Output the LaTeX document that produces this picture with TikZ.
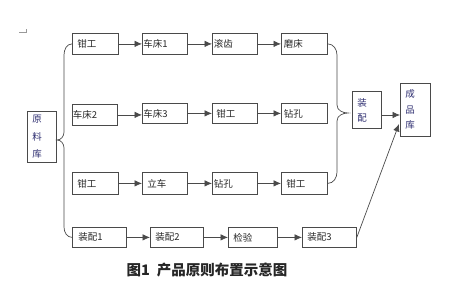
\documentclass[tikz,border=0pt]{standalone}
\usepackage{fontspec}
\newfontfamily\cjk{Noto Sans CJK SC}
\usetikzlibrary{arrows.meta}
\definecolor{ln}{HTML}{4A4A4A}
\definecolor{vt}{HTML}{2E2E70}
\tikzset{
  box/.style={draw=ln, line width=0.8pt, anchor=north west, inner ysep=0pt,
    minimum height=21pt, align=left, text=black!85,
    font=\cjk\fontsize{9.5}{10}\selectfont},
  arr/.style={draw=ln, line width=0.7pt, -{Latex[length=7.5pt,width=6.5pt]}},
  brace/.style={draw=ln, line width=0.7pt},
  vbox/.style={box, text=vt}
}
\begin{document}
\begin{tikzpicture}[x=1pt,y=1pt]
\useasboundingbox (0,0) rectangle (452,295);
% page corner mark
\draw[black!40, line width=0.5pt] (19,263) -- (26,263) -- (26,266);
% row 1
\node[box, inner xsep=5pt, text width=36pt] (gq1) at (72,262) {钳工};
\node[box, inner xsep=1pt, text width=43pt] (cc1) at (142,262) {车床1};
\node[box, inner xsep=1.5pt, text width=42pt] (gc) at (212,262) {滚齿};
\node[box, inner xsep=2.5pt, text width=41pt] (mc) at (281,262) {磨床};
% row 2
\node[box, inner xsep=0.5pt, text width=44pt] (cc2) at (72,191) {车床2};
\node[box, inner xsep=1pt, text width=43pt, minimum height=20pt] (cc3) at (142,192) {车床3};
\node[box, inner xsep=4pt, text width=37pt, minimum height=20pt] (gq2) at (212,192) {钳工};
\node[box, inner xsep=2.5pt, text width=41pt, minimum height=20pt] (zk1) at (281,192) {钻孔};
% row 3
\node[box, inner xsep=5pt, text width=36pt, minimum height=22pt] (gq3) at (72,123) {钳工};
\node[box, inner xsep=5pt, text width=35pt, minimum height=22pt] (lc) at (142,123) {立车};
\node[box, inner xsep=1.5pt, text width=42pt, minimum height=22pt] (zk2) at (212,123) {钻孔};
\node[box, inner xsep=5pt, text width=36pt, minimum height=22pt] (gq4) at (281,123) {钳工};
% row 4
\node[box, inner xsep=6pt, text width=42pt, minimum height=20pt] (zp1) at (72,68) {装配1};
\node[box, inner xsep=5pt, text width=43pt, minimum height=20pt] (zp2) at (150,68) {装配2};
\node[box, inner xsep=5pt, text width=39pt, minimum height=20pt] (jy) at (228,68) {检验};
\node[box, inner xsep=5pt, text width=44pt, minimum height=20pt] (zp3) at (302,68) {装配3};
% vertical boxes
\node[vbox, inner xsep=5pt, text width=19pt, minimum height=51pt,
  font=\cjk\fontsize{9.5}{17.5}\selectfont] (ylk) at (27,184) {原\\料\\库};
\node[vbox, inner xsep=5pt, text width=19pt, minimum height=37pt,
  font=\cjk\fontsize{9.5}{15}\selectfont] (zp) at (352,204) {装\\配};
\node[vbox, inner xsep=5pt, text width=20pt, minimum height=53pt,
  font=\cjk\fontsize{9.5}{15.5}\selectfont] (cpk) at (400,212) {成\\品\\库};
% row arrows
\draw[arr] (gq1) -- (cc1);
\draw[arr] (cc1) -- (gc);
\draw[arr] (gc) -- (mc);
\draw[arr] (cc2.east) -- (cc3.west |- cc2.east);
\draw[arr] (cc3) -- (gq2);
\draw[arr] (gq2) -- (zk1);
\draw[arr] (gq3) -- (lc);
\draw[arr] (lc) -- (zk2);
\draw[arr] (zk2) -- (gq4);
\draw[arr] (zp1) -- (zp2);
\draw[arr] (zp2) -- (jy);
\draw[arr] (jy) -- (zp3);
% left brace
\coordinate (ltip) at (57,155);
\coordinate (l1) at (64,240);
\coordinate (l2) at (64,163);
\coordinate (l3) at (64,147);
\coordinate (l4) at (64,68);
\draw[brace] (gq1.west) to[out=180,in=90] (l1) -- (l2) to[out=-90,in=0] (ltip)
  to[out=0,in=90] (l3) -- (l4) to[out=-90,in=180] (zp1.west);
% right brace
\coordinate (rtip) at (348,182);
\coordinate (r1) at (337,240);
\coordinate (r2) at (337,190);
\coordinate (r3) at (337,174);
\coordinate (r4) at (337,123);
\draw[brace] (mc.east) to[out=0,in=90] (r1) -- (r2) to[out=-90,in=180] (rtip)
  to[out=180,in=90] (r3) -- (r4) to[out=-90,in=0] (gq4.east);
% to finished-goods store
\coordinate (c1) at (400,180);
\coordinate (c2) at (399,171);
\draw[arr] (zp.east |- c1) -- (c1);
\draw[arr] (zp3.east) -- (c2);
% caption
\node[font=\cjk\bfseries\fontsize{14.5}{16}\selectfont, text=black!85] (cap) at (207,25) {图1\hspace{7pt}产品原则布置示意图};
\end{tikzpicture}
\end{document}
